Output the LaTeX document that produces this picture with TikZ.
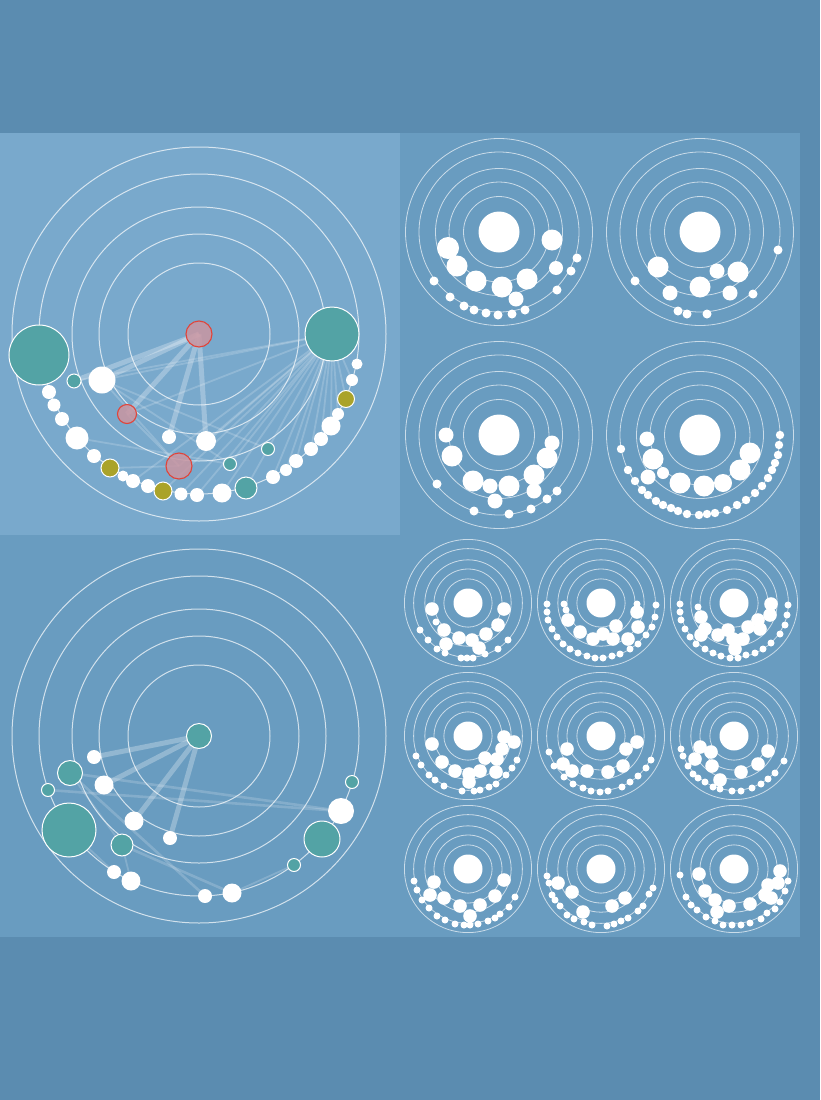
\documentclass[tikz,border=0pt]{standalone}
\usetikzlibrary{positioning}
\definecolor{bgouter}{HTML}{5B8CB0}
\definecolor{bgpanel}{HTML}{699CC0}
\definecolor{bgfocus}{HTML}{79A9CC}
\definecolor{tealc}{HTML}{53A3A5}
\definecolor{olivec}{HTML}{AAA32A}
\definecolor{rosec}{HTML}{C796A3}
\definecolor{redc}{HTML}{E0443A}
\pgfdeclarelayer{backdrop}
\pgfdeclarelayer{links}
\pgfsetlayers{backdrop,links,main}
\tikzset{
  orbit/.style    = {draw=white, draw opacity=0.7, line width=1pt},
  miniorbit/.style= {draw=white, draw opacity=0.65, line width=0.8pt},
  planet/.style   = {circle, inner sep=0pt, minimum size=#1pt},
  whitedot/.style = {planet=#1, fill=white},
  tealdot/.style  = {planet=#1, fill=tealc, draw=white, line width=1pt},
  olivedot/.style = {planet=#1, fill=olivec, draw=white, line width=1pt},
  rosedot/.style  = {planet=#1, fill=rosec, fill opacity=0.88, draw=redc, line width=1.1pt},
  tie/.style      = {draw=white, draw opacity=0.28, line width=5pt},
  wisp/.style     = {draw=white, draw opacity=0.18, line width=1.8pt},
}
% five rings round a centre, scaled
\newcommand\orbits[4]{%
  \foreach \rr in {71,100,127,160,187}
    \draw[#4] (#1,#2) circle[radius=#3*\rr*1pt];
}
% one small chart of the 3x3 grid
\newcommand\minichart[4]{%
  \orbits{#1}{#2}{0.34}{miniorbit}
  \fill[white] (#1,#2) circle[radius=14.5pt];
  \begin{scope}[shift={(#1,#2)}]
    \foreach \dx/\dy in {#3} \fill[white] (\dx,\dy) circle[radius=6.8pt];
    \foreach \dx/\dy in {#4} \fill[white] (\dx,\dy) circle[radius=3.5pt];
  \end{scope}
}
\begin{document}
\begin{tikzpicture}[x=1pt, y=-1pt]
  \begin{pgfonlayer}{backdrop}
    \fill[bgouter] (0,0) rectangle (820,1100);
    \fill[bgpanel] (0,133) rectangle (800,937);
    \fill[bgfocus] (0,133) rectangle (400,535);
  \end{pgfonlayer}

  % ---- upper left : large chart
  \orbits{199}{334}{1}{orbit}
  \node[rosedot=26]  (aHub)  at (199,334) {};
  \node[tealdot=60]  (aBigL) at (39,355)  {};
  \node[tealdot=54]  (aBigR) at (332,334) {};
  \node[tealdot=14]  (aT1)   at (74,381)  {};
  \node[whitedot=27] (aW1)   at (102,380) {};
  \node[rosedot=19]  (aR1)   at (127,414) {};
  \node[whitedot=14] (aW2)   at (169,437) {};
  \node[whitedot=20] (aW3)   at (206,441) {};
  \node[rosedot=26]  (aR2)   at (179,466) {};
  \node[tealdot=13]  (aT2)   at (230,464) {};
  \node[tealdot=13]  (aT3)   at (268,449) {};
  \node[tealdot=22]  (aT4)   at (246,488) {};
  \node[olivedot=18] (aO1)   at (110,468) {};
  \node[olivedot=18] (aO2)   at (163,491) {};
  \node[olivedot=17] (aO3)   at (346,399) {};
  \foreach \x/\y/\d [count=\k] in {49/392/14, 54/405/13, 62/419/14, 77/438/23,
      94/456/14, 123/476/11, 133/481/14, 148/486/14, 181/494/13, 197/495/14,
      222/493/19, 273/477/14, 286/470/12, 296/461/14, 311/449/14, 321/439/14,
      331/426/19, 338/414/12, 352/380/12, 357/364/11}
    \node[whitedot=\d] (aArc\k) at (\x,\y) {};

  \begin{pgfonlayer}{links}
    \foreach \n in {aW1,aT1,aR1,aW2,aW3}
      \draw[tie] (aHub.center) -- (\n.center);
    \foreach \n in {aW1,aT1,aR1,aR2,aW3,aT2,aT4,aO2,aArc7,aArc9,aArc10,aArc11,
        aArc12,aArc13,aArc14,aArc15,aArc16,aArc17,aArc18,aO3,aArc19}
      \draw[wisp] (aBigR.center) -- (\n.center);
    \draw[wisp] (aW1.center) -- (aR2.center);
    \draw[wisp] (aW1.center) -- (aT2.center);
    \draw[wisp] (aW1.center) -- (aT3.center);
    \draw[wisp] (aR1.center) -- (aR2.center);
    \draw[wisp] (aArc4.center) -- (aT2.center);
    \draw[wisp] (aO1.center) -- (aR2.center);
  \end{pgfonlayer}

  % ---- lower left : large chart
  \orbits{199}{736}{1}{orbit}
  \node[tealdot=25]  (bHub)  at (199,736) {};
  \node[whitedot=14] (bW1)   at (94,757)  {};
  \node[tealdot=25]  (bT1)   at (70,773)  {};
  \node[tealdot=13]  (bT2)   at (48,790)  {};
  \node[whitedot=19] (bW2)   at (104,785) {};
  \node[tealdot=54]  (bBigL) at (69,830)  {};
  \node[whitedot=19] (bW3)   at (134,821) {};
  \node[whitedot=14] (bW4)   at (170,838) {};
  \node[tealdot=22]  (bT3)   at (122,845) {};
  \node[whitedot=14] (bW5)   at (114,872) {};
  \node[whitedot=19] (bW6)   at (131,881) {};
  \node[whitedot=14] (bW7)   at (205,896) {};
  \node[whitedot=19] (bW8)   at (232,893) {};
  \node[tealdot=13]  (bT4)   at (294,865) {};
  \node[tealdot=36]  (bBigR) at (322,839) {};
  \node[whitedot=26] (bW9)   at (341,811) {};
  \node[tealdot=13]  (bT5)   at (352,782) {};

  \begin{pgfonlayer}{links}
    \foreach \n in {bW1,bW2,bW3,bW4}
      \draw[tie] (bHub.center) -- (\n.center);
    \draw[wisp, line width=2.6pt] (bT1.center) -- (bW9.center);
    \draw[wisp, line width=2.6pt] (bT2.center) -- (bW9.center);
    \draw[wisp, line width=2.6pt] (bT1.center) -- (bW7.center);
    \draw[wisp, line width=2.6pt] (bT3.center) -- (bW8.center);
    \draw[wisp] (bT1.center) -- (bT3.center);
    \draw[wisp] (bBigL.center) -- (bW5.center);
    \draw[wisp] (bT3.center) -- (bW6.center);
    \draw[wisp] (bW8.center) -- (bT4.center);
  \end{pgfonlayer}

  % ---- upper right : four charts
  \foreach \cx/\cy in {499/232, 700/232, 499/435, 700/435}
    \orbits{\cx}{\cy}{0.5}{miniorbit};
  \foreach \x/\y/\r in {499/232/20.5, 448/248/11, 457/266/10.5, 476/281/10.5,
      502/287/10.5, 527/279/10.5, 516/299/7.5, 552/240/10.5, 556/268/7,
      571/271/4.5, 577/258/4.5, 557/290/4.5, 434/281/4.5, 450/297/4.5,
      464/306/4.5, 474/310/4.5, 486/313/4.5, 498/315/4.5, 512/314/4.5, 525/310/4.5,
      % second
      700/232/20.5, 658/267/10.5, 717/271/7.5, 738/272/10.5, 700/287/10.5,
      670/293/7.5, 730/293/7.5, 753/294/4.5, 778/250/4.5, 635/281/4.5,
      678/311/4.5, 687/314/4.5, 707/314/4.5,
      % third
      499/435/20.5, 446/435/7.5, 452/456/10.5, 473/481/10.5, 490/486/7.5,
      509/486/10.5, 495/501/7.5, 534/475/10.5, 534/491/7.5, 547/458/10.5,
      552/443/7.5, 557/491/4.5, 547/499/4.5, 531/509/4.5, 509/514/4.5,
      474/511/4.5, 437/484/4.5,
      % fourth
      700/435/20.5, 647/439/7.5, 653/459/10.5, 648/477/7.5, 663/473/6,
      680/483/10.5, 704/486/10.5, 723/483/9, 740/470/10.5, 750/453/10.5,
      621/449/4.2, 628/470/4.2, 635/481/4.2, 642/490/4.2, 648/495/4.2,
      656/501/4.2, 663/505/4.2, 671/508/4.2, 678/511/4.2, 687/514/4.2,
      699/515/4.2, 707/514/4.2, 715/513/4.2, 727/510/4.2, 737/505/4.2,
      746/500/4.2, 755/493/4.2, 762/486/4.2, 768/478/4.2, 772/470/4.2,
      775/463/4.2, 778/455/4.2, 779/445/4.2, 780/435/4.2}
    \fill[white] (\x,\y) circle[radius=\r pt];

  % ---- lower right : 3x3 grid
  \minichart{468}{603}
    {-36/6, 36/6, -24/27, -9/35, 4/37, 18/31, 30/22, -22/41, 11/45}
    {-48/27, -32/19, -40/37, -31/46, -23/50, -7/55, -1/55, 5/55, 17/51, 30/46, 40/37}
  \minichart{601}{603}
    {-33/17, -21/29, -8/36, 2/31, 15/23, 27/36, 36/9, 12/36, 37/24}
    {-54/1, -37/1, -35/7, -54/9, -53/17, -49/26, -44/34, -38/41, -31/46, -23/50,
     -14/53, -6/55, 2/55, 11/53, 19/51, 29/46, 37/41, 45/32, 51/24, 54/14, 55/2, 36/1}
  \minichart{734}{603}
    {-33/14, -29/26, -33/32, -16/32, -6/27, -1/36, 1/46, 9/36, 14/24, 24/17, 26/26, 36/12, 37/1}
    {-36/4, -54/1, -54/9, -53/17, -49/26, -44/34, -38/41, -29/46, -21/50, -13/53,
     -4/55, 4/55, 12/52, 21/50, 29/46, 37/40, 46/31, 51/22, 53/12, 54/2}
  \minichart{468}{736}
    {-36/8, -26/26, -13/35, 1/38, 12/35, 1/46, 17/22, 29/23, 34/13, 36/1, 46/6, 28/36}
    {-52/20, -47/29, -39/39, -33/44, -24/50, -6/55, 6/55, 12/54, 21/51, 28/48, 38/39, 44/32, 49/24}
  \minichart{601}{736}
    {-34/13, -38/28, -29/35, -14/35, 7/36, 22/30, 25/13, 36/6}
    {-52/16, -47/30, -37/41, -28/48, -18/52, -10/55, -1/56, 7/55, 21/51, 29/46, 37/40, 45/32, 50/24}
  \minichart{734}{736}
    {-34/11, -23/16, -39/23, -22/30, -14/44, 7/36, 24/28, 34/15}
    {-53/13, -51/20, -46/30, -41/38, -36/42, -29/46, -21/51, -14/53, -2/55, 7/55,
     18/52, 27/48, 34/43, 41/37, 50/25}
  \minichart{468}{869}
    {-34/13, -38/26, -24/29, -8/37, 12/36, 27/27, 36/11, 2/47}
    {-54/12, -51/21, -46/31, -39/39, -31/47, -23/51, -13/55, -4/56, 2/56, 10/55,
     20/52, 27/49, 32/45, 41/38, 47/28}
  \minichart{601}{869}
    {-43/14, -29/23, -18/43, 11/37, 24/29}
    {-54/7, -52/14, -49/26, -46/31, -41/37, -34/46, -27/50, -17/53, -9/56, 6/57,
     13/55, 20/52, 27/49, 37/42, 42/37, 48/25, 52/19}
  \minichart{734}{869}
    {-35/5, -29/22, -19/31, -17/43, -5/37, 16/35, 31/26, 34/16, 46/2, 44/14, 37/29}
    {-54/6, -48/28, -43/36, -37/41, -28/48, -19/52, -11/56, -2/56, 7/56, 16/54,
     27/50, 33/44, 41/40, 46/33, 51/22, 54/12}
\end{tikzpicture}
\end{document}
